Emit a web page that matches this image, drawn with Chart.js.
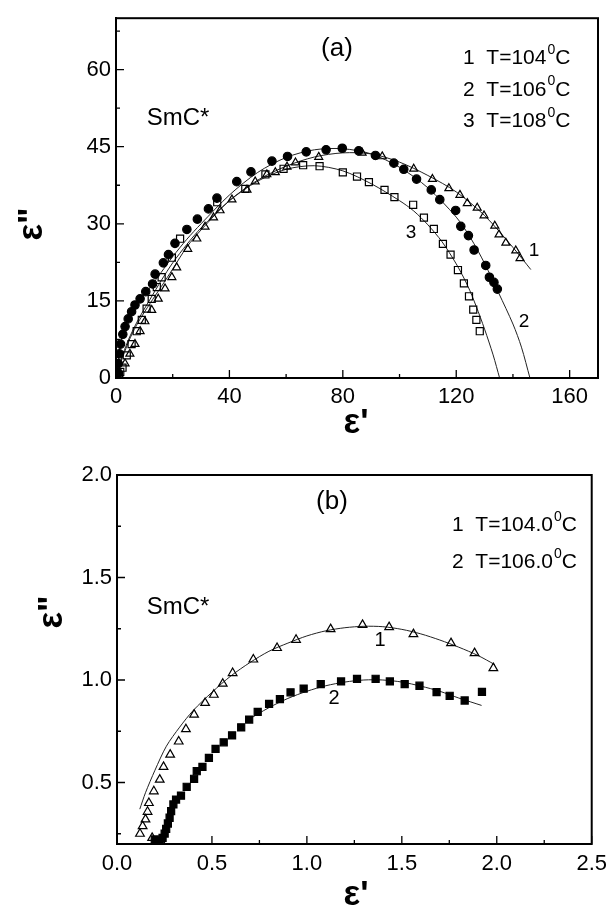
<!DOCTYPE html>
<html lang="en">
<head>
<meta charset="UTF-8">
<title>Cole-Cole plots, SmC*</title>
<script src="https://cdn.jsdelivr.net/npm/chart.js"></script>
<style>
  body { margin: 0; background: #fff; }
  #wrap { position: relative; width: 614px; height: 916px; }
  canvas { position: absolute; left: 0; }
  #chartA { top: 0; }
  #chartB { top: 440px; }
</style>
</head>
<body>
<div id="wrap">
  <canvas id="chartA" width="614" height="440"></canvas>
  <canvas id="chartB" width="614" height="476"></canvas>
</div>
<script>
// ---- panel (a) data: eps' / eps'' ----
const a1X = [1.0, 3.2, 4.9, 6.7, 8.5, 10.2, 12.6, 14.9, 17.3, 19.7, 21.4, 25.3, 28.5, 31.4, 34.4, 36.7, 40.9, 46.2, 49.1, 53.2, 56.2, 60.3, 63.3, 71.5, 86.8, 93.9, 105.0, 111.6, 117.4, 121.3, 123.9, 127.4, 129.8, 133.6, 135.1, 137.5, 141.0, 142.5];
const a1Y = [0.8, 2.8, 4.7, 6.6, 9.1, 11.0, 13.2, 15.4, 17.4, 19.6, 21.5, 25.1, 27.1, 29.4, 31.2, 32.6, 34.7, 36.6, 38.2, 39.6, 40.0, 41.1, 41.9, 43.0, 43.8, 43.1, 40.7, 38.7, 36.9, 35.6, 34.0, 33.1, 31.6, 29.6, 27.9, 26.3, 24.8, 23.3];

const a2X = [0.8, 0.8, 1.2, 1.6, 2.4, 3.2, 4.3, 5.5, 6.7, 8.5, 10.5, 12.9, 13.8, 16.7, 18.5, 20.8, 25.0, 28.7, 32.6, 35.6, 42.6, 47.6, 55.0, 60.5, 67.1, 74.1, 79.8, 85.6, 91.5, 98.0, 101.5, 106.0, 111.2, 114.2, 119.8, 121.6, 124.3, 126.3, 130.4, 131.7, 133.3, 134.5];
const a2Y = [1.0, 2.8, 4.7, 6.6, 8.5, 10.0, 11.5, 12.9, 14.2, 15.4, 16.8, 18.3, 20.2, 22.4, 24.0, 26.2, 28.9, 30.9, 32.9, 35.0, 38.2, 40.1, 42.2, 43.1, 44.0, 44.4, 44.7, 44.2, 43.3, 41.8, 40.6, 38.7, 36.6, 34.7, 32.6, 29.5, 27.7, 24.9, 21.9, 19.6, 18.6, 17.3];

const a3X = [1.0, 1.5, 2.3, 3.8, 5.5, 7.3, 9.1, 10.8, 12.6, 14.4, 16.1, 19.7, 22.6, 35.7, 45.6, 52.7, 59.1, 66.0, 71.8, 80.0, 85.0, 89.2, 94.7, 98.2, 104.8, 108.6, 112.1, 115.3, 118.0, 120.6, 122.7, 124.5, 126.0, 127.1, 128.3];
const a3Y = [0.5, 1.2, 2.0, 4.4, 6.6, 9.1, 11.3, 13.5, 15.4, 17.7, 19.6, 23.4, 27.1, 34.2, 36.8, 39.6, 40.7, 41.4, 41.2, 40.0, 39.2, 38.1, 36.6, 35.2, 33.7, 31.2, 29.0, 26.1, 24.0, 21.0, 18.4, 15.9, 13.3, 11.3, 9.1];

// fitted arcs
const f1X = [0.5, 1.5, 3, 5, 8, 12, 16, 20, 25, 30, 40, 50, 60, 70, 80, 90, 100, 110, 120, 130, 140, 146.3];
const f1Y = [0, 2.8, 5.0, 7.8, 11.0, 14.5, 17.8, 21.2, 25.5, 28.8, 34.5, 38.5, 41.2, 43.0, 43.8, 43.6, 42.0, 39.4, 36.2, 31.6, 25.4, 21.1];
const f2X = [0.3, 0.8, 1.5, 3, 5, 8, 12, 16, 20, 25, 30, 40, 50, 60, 70, 80, 90, 100, 110, 120, 125, 130, 135, 140, 143, 146];
const f2Y = [0, 3.5, 6.5, 9.8, 12.3, 14.8, 17.6, 20.6, 23.6, 27.0, 30.0, 35.6, 40.0, 42.9, 44.4, 44.6, 43.6, 41.0, 37.0, 31.3, 27.3, 22.3, 16.5, 10.5, 6.0, 0];
const f3X = [0.5, 1.5, 3, 5, 8, 12, 16, 20, 25, 30, 40, 50, 60, 70, 80, 90, 100, 105, 110, 115, 120, 124, 127, 130, 133, 135.3];
const f3Y = [0, 3.0, 5.5, 8.2, 11.5, 15.3, 19.0, 22.4, 26.0, 29.2, 34.5, 38.3, 40.6, 41.3, 40.3, 37.8, 34.5, 32.5, 29.8, 26.5, 22.2, 18.0, 14.0, 9.5, 4.5, 0];

const aXTicks = [0, 40, 80, 120, 160];
const aXMinor = [20, 60, 100, 140];
const aYTicks = [0, 15, 30, 45, 60];
const aYMinor = [7.5, 22.5, 37.5, 52.5, 67.5];
const aTemps = ['104', '106', '108'];

// ---- panel (b) data ----
const b1X = [0.121, 0.135, 0.150, 0.161, 0.168, 0.185, 0.194, 0.225, 0.245, 0.280, 0.325, 0.363, 0.406, 0.464, 0.510, 0.557, 0.609, 0.718, 0.843, 0.943, 1.125, 1.293, 1.433, 1.561, 1.759, 1.883, 1.982];
const b1Y = [0.25, 0.287, 0.32, 0.357, 0.40, 0.23, 0.457, 0.514, 0.576, 0.636, 0.70, 0.76, 0.831, 0.888, 0.928, 0.982, 1.034, 1.10, 1.156, 1.196, 1.248, 1.269, 1.258, 1.224, 1.18, 1.131, 1.058];

const b2X = [0.199, 0.225, 0.240, 0.251, 0.259, 0.268, 0.277, 0.285, 0.297, 0.311, 0.337, 0.367, 0.406, 0.420, 0.450, 0.484, 0.519, 0.562, 0.606, 0.654, 0.696, 0.741, 0.801, 0.858, 0.914, 0.983, 1.073, 1.180, 1.264, 1.362, 1.437, 1.515, 1.593, 1.683, 1.752, 1.831, 1.922];
const b2Y = [0.222, 0.214, 0.230, 0.251, 0.274, 0.300, 0.328, 0.360, 0.393, 0.417, 0.436, 0.479, 0.518, 0.555, 0.576, 0.620, 0.664, 0.696, 0.730, 0.769, 0.807, 0.844, 0.883, 0.907, 0.940, 0.958, 0.980, 0.993, 1.005, 1.006, 0.993, 0.980, 0.972, 0.941, 0.923, 0.900, 0.942];

const g1X = [0.12, 0.15, 0.2, 0.26, 0.33, 0.4, 0.5, 0.6, 0.7, 0.8, 0.9, 1.0, 1.1, 1.2, 1.3, 1.4, 1.5, 1.6, 1.7, 1.8, 1.9, 1.99];
const g1Y = [0.37, 0.45, 0.56, 0.677, 0.77, 0.85, 0.94, 1.02, 1.085, 1.14, 1.18, 1.215, 1.24, 1.255, 1.262, 1.26, 1.247, 1.225, 1.195, 1.16, 1.12, 1.075];
const g2X = [0.68, 0.8, 0.9, 1.0, 1.1, 1.2, 1.3, 1.4, 1.5, 1.6, 1.7, 1.8, 1.92];
const g2Y = [0.80, 0.865, 0.91, 0.945, 0.972, 0.99, 1.0, 1.0, 0.99, 0.97, 0.945, 0.912, 0.876];

const bXTicks = [0, 0.5, 1.0, 1.5, 2.0, 2.5];
const bXMinor = [0.25, 0.75, 1.25, 1.75, 2.25];
const bYTicks = [0.5, 1.0, 1.5, 2.0];
const bYMinor = [0.25, 0.75, 1.25, 1.75];
const bTemps = ['104.0', '106.0'];

const FONT = 'Arial, "Liberation Sans", Helvetica, sans-serif';

function pts(xs, ys) { return xs.map((x, i) => ({ x: x, y: ys[i] })); }

function markers(xs, ys, style, filled, r) {
  return {
    data: pts(xs, ys), showLine: false,
    pointStyle: style, pointRadius: r,
    pointBorderColor: '#000', pointBorderWidth: 1.2,
    pointBackgroundColor: filled ? '#000' : 'rgba(0,0,0,0)'
  };
}

function fitLine(xs, ys) {
  return {
    data: pts(xs, ys), showLine: true, pointRadius: 0,
    borderColor: '#222', borderWidth: 1, tension: 0.3, fill: false
  };
}

function tempLabel(ctx, x, y, num, temp, size) {
  ctx.textAlign = 'left';
  ctx.textBaseline = 'alphabetic';
  ctx.font = size + 'px ' + FONT;
  const main = num + '  T=' + temp;
  ctx.fillText(main, x, y);
  const w = ctx.measureText(main).width;
  ctx.font = Math.round(size * 0.66) + 'px ' + FONT;
  ctx.fillText('0', x + w + 1, y - size * 0.5);
  const w2 = ctx.measureText('0').width;
  ctx.font = size + 'px ' + FONT;
  ctx.fillText('C', x + w + w2 + 1, y);
}

function centered(ctx, s, x, y, font) {
  ctx.font = font + ' ' + FONT;
  ctx.textAlign = 'center';
  ctx.textBaseline = 'middle';
  ctx.fillText(s, x, y);
}

// frame, inside ticks and the texts
function decor(t) {
  return {
    id: 'decor',
    afterDraw(chart) {
      const ctx = chart.ctx, a = chart.chartArea;
      const xs = chart.scales.x, ys = chart.scales.y;
      ctx.save();
      ctx.strokeStyle = '#000';
      ctx.lineWidth = 2;
      ctx.strokeRect(a.left, a.top, a.right - a.left, a.bottom - a.top);
      ctx.lineWidth = 1.3;
      ctx.beginPath();
      t.xMajor.forEach(v => { const p = xs.getPixelForValue(v); ctx.moveTo(p, a.bottom); ctx.lineTo(p, a.bottom - 8); });
      t.xMinor.forEach(v => { const p = xs.getPixelForValue(v); ctx.moveTo(p, a.bottom); ctx.lineTo(p, a.bottom - 4); });
      t.yMajor.forEach(v => { const p = ys.getPixelForValue(v); ctx.moveTo(a.left, p); ctx.lineTo(a.left + 8, p); });
      t.yMinor.forEach(v => { const p = ys.getPixelForValue(v); ctx.moveTo(a.left, p); ctx.lineTo(a.left + 4, p); });
      ctx.stroke();

      ctx.fillStyle = '#000';
      centered(ctx, t.panel, t.panelPos[0], t.panelPos[1], '26px');
      centered(ctx, 'SmC*', t.smcPos[0], t.smcPos[1], '24px');
      t.temps.forEach((temp, i) => tempLabel(ctx, t.legX, t.legY + i * t.legStep, String(i + 1), temp, t.legSize));
      t.curveLabels.forEach(c => centered(ctx, c[0], c[1], c[2], t.curveSize + 'px'));

      // axis titles
      centered(ctx, "\u03B5'", t.xTitle[0], t.xTitle[1], 'bold 35px');
      ctx.save();
      ctx.translate(t.yTitle[0], t.yTitle[1]);
      ctx.rotate(-Math.PI / 2);
      centered(ctx, '\u03B5"', 0, 0, 'bold 35px');
      ctx.restore();
      ctx.restore();
    }
  };
}

function axis(min, max, ticks, fmt, fit, isX, pad) {
  return {
    type: 'linear', min: min, max: max,
    grid: { display: false, drawTicks: false },
    border: { display: true, color: '#000', width: 2 },
    ticks: { color: '#000', font: { family: FONT, size: 22 }, padding: pad, maxRotation: 0, callback: fmt },
    afterBuildTicks: s => { s.ticks = ticks.map(v => ({ value: v })); },
    afterFit: s => { if (isX) s.height = fit; else s.width = fit; }
  };
}

Chart.defaults.font.family = FONT;

new Chart(document.getElementById('chartA'), {
  type: 'scatter',
  data: {
    datasets: [
      markers(a2X, a2Y, 'circle', true, 4.2),
      markers(a1X, a1Y, 'triangle', false, 4.6),
      markers(a3X, a3Y, 'rect', false, 5),
      fitLine(f1X, f1Y),
      fitLine(f2X, f2Y),
      fitLine(f3X, f3Y)
    ]
  },
  options: {
    responsive: false, animation: false, events: [],
    layout: { padding: { top: 8, right: 16, left: 0, bottom: 0 } },
    plugins: { legend: { display: false }, tooltip: { enabled: false } },
    scales: {
      x: axis(0, 170, aXTicks, v => String(v), 62, true, 6),
      y: axis(0, 70, aYTicks, v => String(v), 116, false, 5)
    }
  },
  plugins: [decor({
    xMajor: aXTicks, xMinor: aXMinor, yMajor: aYTicks, yMinor: aYMinor,
    panel: '(a)', panelPos: [337, 49], smcPos: [178, 118],
    temps: aTemps, legX: 463, legY: 64, legStep: 31.6, legSize: 21,
    curveLabels: [['1', 534, 251], ['2', 524, 322], ['3', 411, 233]], curveSize: 19,
    xTitle: [356, 423], yTitle: [32, 224]
  })]
});

new Chart(document.getElementById('chartB'), {
  type: 'scatter',
  data: {
    datasets: [
      markers(b2X, b2Y, 'rect', true, 5),
      markers(b1X, b1Y, 'triangle', false, 5),
      fitLine(g1X, g1Y),
      fitLine(g2X, g2Y)
    ]
  },
  options: {
    responsive: false, animation: false, events: [],
    layout: { padding: { top: 35, right: 16, left: 0, bottom: 0 } },
    plugins: { legend: { display: false }, tooltip: { enabled: false } },
    scales: {
      x: axis(0, 2.5, bXTicks, v => Number(v).toFixed(1), 72, true, 7),
      y: axis(0.2, 2.0, bYTicks, v => Number(v).toFixed(1), 117, false, 5)
    }
  },
  plugins: [decor({
    xMajor: bXTicks, xMinor: bXMinor, yMajor: bYTicks, yMinor: bYMinor,
    panel: '(b)', panelPos: [332, 62], smcPos: [178, 167],
    temps: bTemps, legX: 452, legY: 91, legStep: 37, legSize: 21,
    curveLabels: [['1', 380, 200], ['2', 334, 258]], curveSize: 20,
    xTitle: [356, 455], yTitle: [52, 172]
  })]
});
</script>
</body>
</html>
